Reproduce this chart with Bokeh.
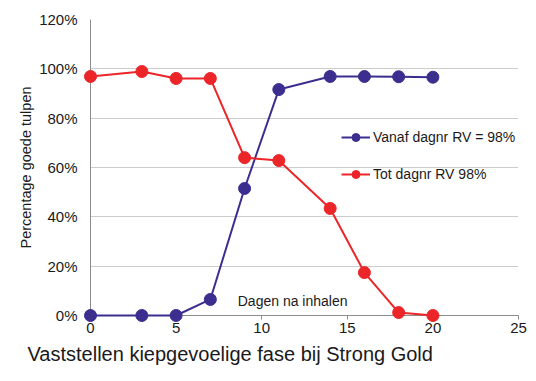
from bokeh.plotting import figure
from bokeh.models import (Range1d, Legend, LegendItem, Label, Title,
                          PrintfTickFormatter, FixedTicker)
from bokeh.embed import file_html
from bokeh.resources import INLINE

days = [0, 3, 5, 7, 9, 11, 14, 16, 18, 20]
vanaf = [0, 0, 0, 6.5, 51.5, 91.6, 96.9, 96.9, 96.8, 96.6]
tot = [96.9, 98.9, 96.1, 96.1, 64.0, 62.8, 43.4, 17.4, 1.2, 0]
x_ticks = [0, 5, 10, 15, 20, 25]
y_ticks = [0, 20, 40, 60, 80, 100, 120]
series_names = ["Vanaf dagnr RV = 98%", "Tot dagnr RV 98%"]
x_title = "Dagen na inhalen"
y_title = "Percentage goede tulpen"
chart_title = "Vaststellen kiepgevoelige fase bij Strong Gold"

BLUE = "#3b2e8f"
RED = "#ec2528"
FONT = "Liberation Sans"

p = figure(width=536, height=381, output_backend="svg", toolbar_location=None,
           x_range=Range1d(0, 25), y_range=Range1d(0, 120),
           min_border_left=90, min_border_right=18, min_border_top=19,
           min_border_bottom=66)
p.outline_line_color = None
p.background_fill_color = "white"
p.border_fill_color = "white"

p.xgrid.grid_line_color = None
p.ygrid.grid_line_color = "#999999"
p.ygrid.grid_line_dash = "1 1"
p.ygrid.grid_line_width = 1

p.xaxis.ticker = FixedTicker(ticks=x_ticks)
p.yaxis.ticker = FixedTicker(ticks=y_ticks)
p.yaxis.formatter = PrintfTickFormatter(format="%d%%")
for ax in (p.xaxis, p.yaxis):
    ax.axis_line_color = "#8c8c8c"
    ax.axis_line_width = 1
    ax.minor_tick_line_color = None
    ax.major_label_text_font = FONT
    ax.major_label_text_font_size = "15px"
    ax.major_label_text_color = "#1a1a1a"
p.xaxis.major_tick_line_color = "#8c8c8c"
p.xaxis.major_tick_in = 0
p.xaxis.major_tick_out = 4
p.xaxis.major_label_standoff = 3
p.yaxis.major_tick_line_color = None
p.yaxis.major_tick_out = 0
p.yaxis.major_tick_in = 0
p.yaxis.major_label_standoff = 13
p.yaxis.axis_label = y_title
p.yaxis.axis_label_text_font = FONT
p.yaxis.axis_label_text_font_size = "14.5px"
p.yaxis.axis_label_text_font_style = "normal"
p.yaxis.axis_label_text_color = "#1a1a1a"
p.yaxis.axis_label_standoff = 2

l1 = p.line(days, vanaf, line_color=BLUE, line_width=2, level="overlay")
s1 = p.scatter(days, vanaf, size=12, fill_color=BLUE, line_color=BLUE, level="overlay")
l2 = p.line(days, tot, line_color=RED, line_width=2, level="overlay")
s2 = p.scatter(days, tot, size=12, fill_color=RED, line_color=RED, level="overlay")

legend = Legend(items=[LegendItem(label=series_names[0], renderers=[l1, s1]),
                       LegendItem(label=series_names[1], renderers=[l2, s2])],
                location=(251, 131), padding=0, margin=0, spacing=17,
                glyph_width=29, glyph_height=20, label_standoff=3,
                background_fill_alpha=0, border_line_color=None,
                label_text_font=FONT, label_text_font_size="14px",
                label_text_color="#1a1a1a")
p.add_layout(legend)

p.add_layout(Label(x=8.6, y=5.7, text=x_title, text_font=FONT,
                   text_font_size="14px", text_baseline="middle",
                   text_color="#1a1a1a"))

t = Title(text=chart_title, align="left", offset=-63, text_font=FONT,
          text_font_size="20px", text_font_style="normal", text_color="#1a1a1a",
          standoff=11)
p.add_layout(t, "below")

open("out.html", "w").write(file_html(p, INLINE))
